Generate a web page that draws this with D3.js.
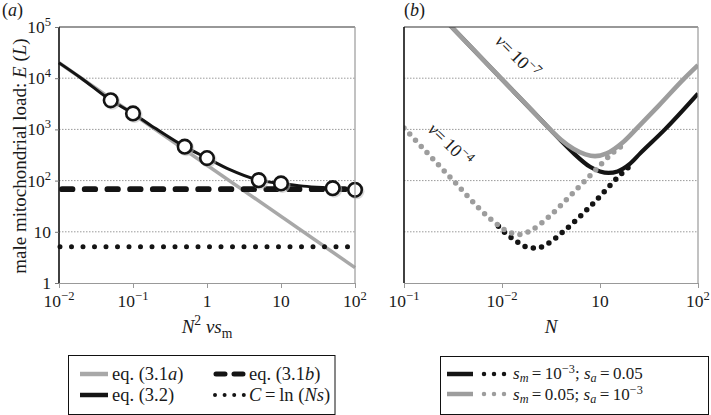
<!DOCTYPE html>
<html><head><meta charset="utf-8">
<script src="https://cdn.jsdelivr.net/npm/d3@7"></script>
<style>
body{margin:0;background:#fff}
svg{display:block}
text{font-family:"Liberation Serif","DejaVu Serif",serif;fill:#1a1a1a}
</style>
</head><body>
<svg id="c" width="711" height="415"></svg>
<script>
// ---------- data ----------
const yTicks = [1, 10, 100, 1e3, 1e4, 1e5];
const yTickLabels = [["1"], ["10"], ["10", "2"], ["10", "3"], ["10", "4"], ["10", "5"]];
const aTicks = [0.01, 0.1, 1, 10, 100];
const aTickLabels = [["10", "−2"], ["10", "−1"], ["1"], ["10"], ["10", "2"]];
const bTicks = [0.1, 1, 10, 100];
const bTickLabels = [["10", "−1"], ["10", "−2"], ["10"], ["10", "2"]];
const gridValues = [10, 100, 1e3, 1e4];

// panel (a): x = N^2 v s_m, y = E(L)
const aEq31aX = [0.01, 100];
const aEq31aY = [20000, 2];
const aEq31bX = [0.01, 100];
const aEq31bY = [68, 68];
const aCX = [0.01, 100];
const aCY = [5.1, 5.1];
const aEq32X = [0.01, 0.02, 0.05, 0.1, 0.2, 0.5, 1, 2, 5, 10, 20, 50, 100];
const aEq32Y = [20000, 10000, 3700, 2050, 1050, 460, 275, 165, 102, 88, 78, 71, 66];
const aMarkX = [0.05, 0.1, 0.5, 1, 5, 10, 50, 100];
const aMarkY = [3700, 2050, 460, 275, 102, 88, 71, 66];

// panel (b): x = N, y = E(L)
// v = 1e-7 (solid)
const bGraySolidX = [0.28, 1, 2, 3.1, 4, 5.4, 7.1, 8.9, 11.7, 17.4, 25.7, 40, 71, 100];
const bGraySolidY = [120000, 9500, 2400, 1000, 630, 415, 325, 300, 340, 575, 1230, 2950, 9500, 18000];
const bBlackSolidX = [0.28, 1, 2, 3.1, 4, 5.4, 7.9, 10, 12.2, 15.1, 20, 25.7, 46, 100];
const bBlackSolidY = [120000, 9500, 2400, 1000, 600, 340, 186, 151, 141, 151, 209, 340, 1000, 5000];
// v = 1e-4 (dotted)
const bGrayDotX = [0.1, 0.298, 0.76, 1.16, 1.52, 1.95, 2.95, 4.4, 7.76, 13.7, 16.2];
const bGrayDotY = [1070, 115, 18, 10, 8.9, 10.5, 19, 40, 120, 355, 457];
const bBlackDotX = [0.92, 1.11, 1.38, 1.75, 2.26, 2.86, 4.4, 7.9, 16.7, 21];
const bBlackDotY = [12.9, 9.1, 6.7, 5.1, 4.8, 5.7, 10.8, 31, 138, 205];

// ---------- helpers ----------
const svg = d3.select("#c");
const top0 = 27, bot0 = 283;
const y = d3.scaleLog().domain([1, 1e5]).range([bot0, top0]);
const xa = d3.scaleLog().domain([0.01, 100]).range([59, 355]);
const xb = d3.scaleLog().domain([0.1, 100]).range([404, 698]);
const GRAY = "#a8a8a8", BGRAY = "#9d9d9d", BLACK = "#141414";
const TS = "\u2009";

function rich(sel, parts, fs, supK, subK) {
  supK = supK || 0.4; subK = subK || 0.25;
  let shift = 0;
  parts.forEach(([t, s]) => {
    const ts = sel.append("tspan").text(t);
    let target = 0;
    if (s === "sup") { target = -fs * supK; ts.attr("font-size", fs * 0.72); }
    else if (s === "sub" || s === "isub") { target = fs * subK; ts.attr("font-size", fs * 0.72); }
    else ts.attr("font-size", fs);
    if (s === "i" || s === "isub") ts.attr("font-style", "italic");
    if (target !== shift) { ts.attr("dy", target - shift); shift = target; }
  });
}
function pow(label) { return label.length === 1 ? [[label[0], ""]] : [[label[0], ""], [label[1], "sup"]]; }

function frame(x) {
  const [x0, x1] = x.range();
  const g = svg.append("g");
  g.selectAll("line.grid").data(gridValues).join("line")
    .attr("x1", x0).attr("x2", x1).attr("y1", d => y(d)).attr("y2", d => y(d))
    .attr("stroke", "#9a9a9a").attr("stroke-width", 1).attr("stroke-dasharray", "1.5 1.5");
  return g;
}
function frameLines(x) {
  const [x0, x1] = x.range();
  const g = svg.append("g");
  g.append("line").attr("x1", x0).attr("x2", x1).attr("y1", top0).attr("y2", top0).attr("stroke", "#333").attr("stroke-width", 1.2);
  g.append("line").attr("x1", x1).attr("x2", x1).attr("y1", top0).attr("y2", bot0).attr("stroke", "#999").attr("stroke-width", 1.2);
  g.append("line").attr("x1", x0).attr("x2", x0).attr("y1", top0).attr("y2", bot0).attr("stroke", "#111").attr("stroke-width", 1.6);
  const ax = d3.axisBottom(x).tickValues(x === xa ? aTicks : bTicks).tickFormat("").tickSize(5).tickSizeOuter(0);
  const ag = g.append("g").attr("transform", `translate(0,${bot0})`).call(ax);
  ag.select(".domain").attr("stroke", "#999").attr("stroke-width", 1.2);
  ag.selectAll(".tick line").attr("stroke", "#999");
  const labels = x === xa ? aTickLabels : bTickLabels;
  const ticks = x === xa ? aTicks : bTicks;
  ticks.forEach((t, i) => {
    const tx = g.append("text").attr("x", x(t)).attr("y", 307).attr("text-anchor", "middle");
    rich(tx, pow(labels[i]), 17.5);
  });
}
function line(x, xs, ys, curve) {
  return d3.line().x(d => x(d[0])).y(d => y(d[1])).curve(curve || d3.curveMonotoneX)(xs.map((v, i) => [v, ys[i]]));
}

// ---------- panel (a) ----------
frame(xa);
const ga = svg.append("g");
ga.append("path").attr("d", line(xa, aEq31aX, aEq31aY, d3.curveLinear)).attr("fill", "none").attr("stroke", GRAY).attr("stroke-width", 3.5);
ga.append("path").attr("d", line(xa, aEq31bX, aEq31bY, d3.curveLinear)).attr("fill", "none").attr("stroke", BLACK)
  .attr("stroke-width", 5.8).attr("stroke-linecap", "round").attr("stroke-dasharray", "10.5 12.2").attr("stroke-dashoffset", -3);
ga.append("path").attr("d", line(xa, aCX, aCY, d3.curveLinear)).attr("fill", "none").attr("stroke", BLACK)
  .attr("stroke-width", 5).attr("stroke-linecap", "round").attr("stroke-dasharray", "0 11.5").attr("stroke-dashoffset", -1);
ga.append("path").attr("d", line(xa, aEq32X, aEq32Y)).attr("fill", "none").attr("stroke", BLACK).attr("stroke-width", 3);
const marks = aMarkX.map((v, i) => [v, aMarkY[i]]);
ga.selectAll("circle.sh").data(marks).join("circle").attr("cx", d => xa(d[0]) + 1.5).attr("cy", d => y(d[1]) + 1.5)
  .attr("r", 8).attr("fill", "#bbb").attr("opacity", 0.55);
ga.selectAll("circle.m").data(marks).join("circle").attr("cx", d => xa(d[0])).attr("cy", d => y(d[1]))
  .attr("r", 6.8).attr("fill", "#fff").attr("stroke", BLACK).attr("stroke-width", 2.6);
frameLines(xa);
const yt = d3.axisLeft(y).tickValues(yTicks).tickFormat("").tickSize(4).tickSizeOuter(0);
const ygA = svg.append("g").attr("transform", "translate(59,0)").call(yt);
ygA.select(".domain").remove();
ygA.selectAll(".tick line").attr("stroke", "#777");
yTicks.forEach((t, i) => {
  const tx = svg.append("text").attr("x", 51).attr("y", y(t) + 6).attr("text-anchor", "end");
  rich(tx, pow(yTickLabels[i]), 17.5);
});
const yTitle = svg.append("text").attr("transform", "translate(26,156) rotate(-90)").attr("text-anchor", "middle");
rich(yTitle, [["male mitochondrial load: ", ""], ["E", "i"], [" (", ""], ["L", "i"], [")", ""]], 19);
const xTitA = svg.append("text").attr("x", 207).attr("y", 333).attr("text-anchor", "middle");
rich(xTitA, [["N", "i"], ["2", "sup"], [" νs", "i"], ["m", "sub"]], 19);
rich(svg.append("text").attr("x", 2).attr("y", 16), [["(", ""], ["a", "i"], [")", ""]], 18);

// ---------- panel (b) ----------
frame(xb);
svg.append("clipPath").attr("id", "clipb").append("rect").attr("x", 404).attr("y", top0).attr("width", 294).attr("height", bot0 - top0);
const gb = svg.append("g").attr("clip-path", "url(#clipb)");
gb.append("path").attr("d", line(xb, bBlackDotX, bBlackDotY)).attr("fill", "none").attr("stroke", BLACK)
  .attr("stroke-width", 5.5).attr("stroke-linecap", "round").attr("stroke-dasharray", "0 8.4");
gb.append("path").attr("d", line(xb, bBlackSolidX, bBlackSolidY)).attr("fill", "none").attr("stroke", BLACK).attr("stroke-width", 4.2);
gb.append("path").attr("d", line(xb, bGrayDotX, bGrayDotY)).attr("fill", "none").attr("stroke", BGRAY)
  .attr("stroke-width", 5.5).attr("stroke-linecap", "round").attr("stroke-dasharray", "0 8.4");
gb.append("path").attr("d", line(xb, bGraySolidX, bGraySolidY)).attr("fill", "none").attr("stroke", BGRAY).attr("stroke-width", 4.6);
frameLines(xb);
const xTitB = svg.append("text").attr("x", 551).attr("y", 333).attr("text-anchor", "middle");
rich(xTitB, [["N", "i"]], 19);
rich(svg.append("text").attr("x", 404).attr("y", 16), [["(", ""], ["b", "i"], [")", ""]], 18);
const l7 = svg.append("text").attr("transform", "translate(513,61) rotate(45)").attr("text-anchor", "middle");
rich(l7, [["ν", "i"], ["=" + TS + "10", ""], ["−7", "sup"]], 18);
const l4 = svg.append("text").attr("transform", "translate(446,149) rotate(44)").attr("text-anchor", "middle");
rich(l4, [["ν", "i"], ["=" + TS + "10", ""], ["−4", "sup"]], 18);

// ---------- legends ----------
const L = svg.append("g");
L.append("rect").attr("x", 68.5).attr("y", 355.5).attr("width", 266.5).attr("height", 59).attr("fill", "none").attr("stroke", "#111").attr("stroke-width", 1);
function seg(g, x1, x2, yy, col, w, dash) {
  const p = g.append("line").attr("x1", x1).attr("x2", x2).attr("y1", yy).attr("y2", yy).attr("stroke", col).attr("stroke-width", w);
  if (dash) p.attr("stroke-dasharray", dash).attr("stroke-linecap", "round");
  return p;
}
seg(L, 80, 108, 374, GRAY, 4.5);
seg(L, 216, 243, 374, BLACK, 5, "9 9");
seg(L, 80, 108, 395, BLACK, 4.5);
seg(L, 215, 245, 395, BLACK, 4, "0 9.6");
rich(L.append("text").attr("x", 112).attr("y", 380), [["eq. (3.1", ""], ["a", "i"], [")", ""]], 18.5);
rich(L.append("text").attr("x", 249).attr("y", 380), [["eq. (3.1", ""], ["b", "i"], [")", ""]], 18.5);
rich(L.append("text").attr("x", 112).attr("y", 401), [["eq. (3.2)", ""]], 18.5);
rich(L.append("text").attr("x", 249).attr("y", 401), [["C", "i"], [TS + "=" + TS + "ln (", ""], ["Ns", "i"], [")", ""]], 18.5);

const R = svg.append("g");
R.append("rect").attr("x", 440.5).attr("y", 356.5).attr("width", 268).attr("height", 58).attr("fill", "none").attr("stroke", "#111").attr("stroke-width", 1);
seg(R, 447, 473, 374, BLACK, 4.5);
seg(R, 484, 506, 374, BLACK, 4.5, "0 10");
seg(R, 447, 473, 394, BGRAY, 4.5);
seg(R, 484, 506, 394, BGRAY, 4.5, "0 10");
rich(R.append("text").attr("x", 513).attr("y", 379), [["s", "i"], ["m", "isub"], [TS + "=" + TS + "10", ""], ["−3", "sup"], ["; ", ""], ["s", "i"], ["a", "isub"], [TS + "=" + TS + "0.05", ""]], 17, 0.35, 0.18);
rich(R.append("text").attr("x", 513).attr("y", 400), [["s", "i"], ["m", "isub"], [TS + "=" + TS + "0.05; ", ""], ["s", "i"], ["a", "isub"], [TS + "=" + TS + "10", ""], ["−3", "sup"]], 17, 0.35, 0.18);
</script>
</body></html>
